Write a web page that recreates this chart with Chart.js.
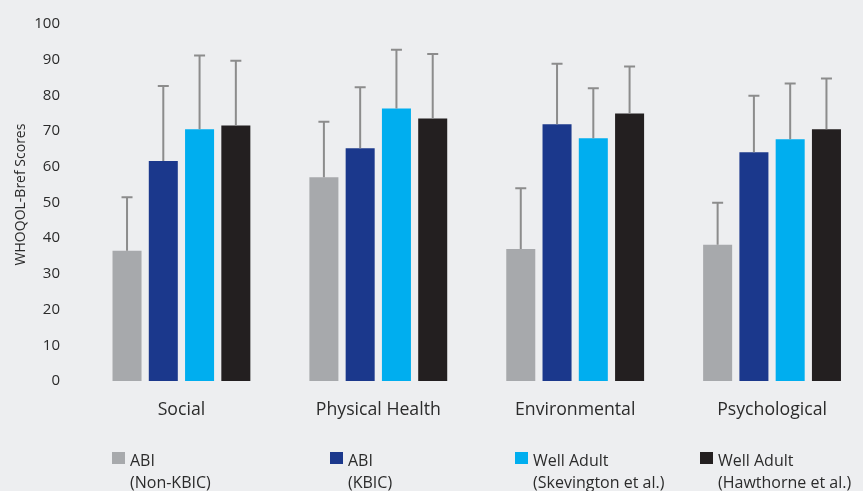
<!DOCTYPE html>
<html>
<head>
<meta charset="utf-8">
<script src="https://cdn.jsdelivr.net/npm/chart.js@4/dist/chart.umd.min.js"></script>
<style>
  html, body { margin: 0; padding: 0; background: #edeef0; }
  #wrap { position: relative; width: 863px; height: 491px; overflow: hidden; background: #edeef0; }
  #chart { position: absolute; left: 0; top: 0; }
  .item { position: absolute; top: 449px; font-family: 'Open Sans', sans-serif; font-size: 16px; color: #2b2b2b; }
  .sw { position: absolute; left: 0; top: 3px; width: 13px; height: 12px; }
  .txt { position: absolute; left: 18px; top: 0; line-height: 22px; white-space: nowrap; }
</style>
</head>
<body>
<div id="wrap">
  <canvas id="chart" width="863" height="491"></canvas>
  <div id="legend"></div>
</div>
<script>
// Domains of the WHOQOL-Bref
const categories = ['Social', 'Physical Health', 'Environmental', 'Psychological'];

// Mean domain scores per group
const abiNonKbic = [36.5, 57.1, 37.0, 38.2];
const abiKbic    = [61.6, 65.2, 71.9, 64.1];
const skevington = [70.5, 76.3, 68.0, 67.7];
const hawthorne  = [71.6, 73.5, 74.9, 70.5];

// Standard deviations (upper whiskers)
const sdNonKbic    = [15.0, 15.5, 17.0, 11.7];
const sdKbic       = [21.0, 17.1, 17.0, 15.8];
const sdSkevington = [20.7, 16.5, 14.0, 15.6];
const sdHawthorne  = [18.1, 18.1, 13.2, 14.2];

// Y-axis ticks
const yTicks = [0, 10, 20, 30, 40, 50, 60, 70, 80, 90, 100];
const yTitle = 'WHOQOL-Bref Scores';

const seriesNames = [
  ['ABI', '(Non-KBIC)'],
  ['ABI', '(KBIC)'],
  ['Well Adult', '(Skevington et al.)'],
  ['Well Adult', '(Hawthorne et al.)']
];
const seriesColors = ['#a7a9ac', '#1b388c', '#00aeef', '#231f20'];
const seriesValues = [abiNonKbic, abiKbic, skevington, hawthorne];
const seriesSd = [sdNonKbic, sdKbic, sdSkevington, sdHawthorne];

const textColor = '#2b2b2b';

const datasets = seriesValues.map((vals, i) => ({
  label: seriesNames[i].join(' '),
  data: vals.map((v, j) => ({ x: j, y: v })),
  backgroundColor: seriesColors[i],
  borderWidth: 0,
  categoryPercentage: 0.737,
  barPercentage: 0.8
}));

// Upper error whiskers with a short cap
const errorBars = {
  id: 'errorBars',
  afterDatasetsDraw(chart) {
    const ctx = chart.ctx;
    const y = chart.scales.y;
    ctx.save();
    ctx.strokeStyle = '#8c8c8c';
    ctx.lineWidth = 2;
    chart.data.datasets.forEach((ds, i) => {
      const meta = chart.getDatasetMeta(i);
      meta.data.forEach((bar, j) => {
        const top = y.getPixelForValue(seriesValues[i][j] + seriesSd[i][j]);
        ctx.beginPath();
        ctx.moveTo(bar.x, bar.y);
        ctx.lineTo(bar.x, top);
        ctx.moveTo(bar.x - 5.5, top);
        ctx.lineTo(bar.x + 5.5, top);
        ctx.stroke();
      });
    });
    ctx.restore();
  }
};

// Rotated y-axis title, set slightly above the plot's middle
const axisTitle = {
  id: 'axisTitle',
  afterDraw(chart) {
    const ctx = chart.ctx;
    const area = chart.chartArea;
    ctx.save();
    ctx.translate(21, (area.top + area.bottom) / 2 - 8);
    ctx.rotate(-Math.PI / 2);
    ctx.fillStyle = textColor;
    ctx.font = '14px "Open Sans"';
    ctx.textAlign = 'center';
    ctx.textBaseline = 'middle';
    ctx.fillText(yTitle, 0, 0);
    ctx.restore();
  }
};

new Chart(document.getElementById('chart'), {
  type: 'bar',
  data: { datasets },
  options: {
    responsive: false,
    animation: false,
    devicePixelRatio: 1,
    layout: { padding: { top: 21.5, left: 0, right: 0, bottom: 0 } },
    plugins: { legend: { display: false }, tooltip: { enabled: false } },
    scales: {
      x: {
        type: 'linear',
        offset: false,
        min: -0.5,
        max: 3.462,
        grid: { display: false },
        border: { display: false },
        afterBuildTicks(scale) { scale.ticks = categories.map((_, i) => ({ value: i })); },
        afterFit(scale) { scale.height = 110; },
        ticks: {
          autoSkip: false,
          maxRotation: 0,
          padding: 10,
          color: textColor,
          font: { family: 'Open Sans', size: 17.7 },
          callback: (v) => categories[v]
        }
      },
      y: {
        min: 0,
        max: 100,
        grid: { display: false },
        border: { display: false },
        afterBuildTicks(scale) { scale.ticks = yTicks.map(v => ({ value: v })); },
        afterFit(scale) { scale.width = 83; },
        ticks: {
          padding: 15,
          color: textColor,
          font: { family: 'Open Sans', size: 15 }
        }
      }
    }
  },
  plugins: [errorBars, axisTitle]
});

// Legend below the plot
const legendPos = [112, 330, 515, 700];
const legend = document.getElementById('legend');
seriesNames.forEach((lines, i) => {
  const item = document.createElement('div');
  item.className = 'item';
  item.style.left = legendPos[i] + 'px';
  const sw = document.createElement('div');
  sw.className = 'sw';
  sw.style.background = seriesColors[i];
  const txt = document.createElement('div');
  txt.className = 'txt';
  txt.innerHTML = lines.join('<br>');
  item.appendChild(sw);
  item.appendChild(txt);
  legend.appendChild(item);
});
</script>
</body>
</html>
